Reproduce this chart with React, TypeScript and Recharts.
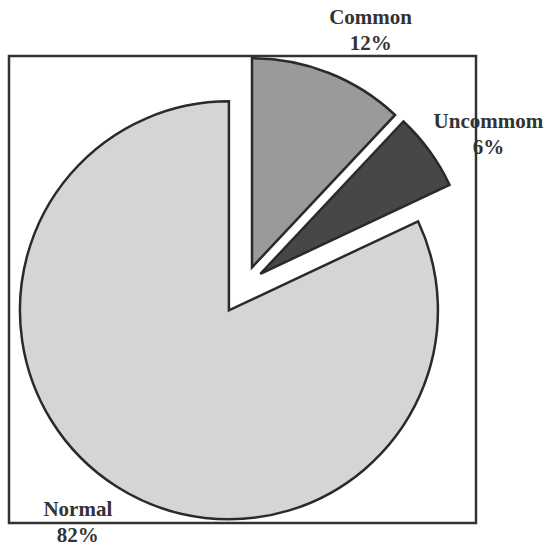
import { Cell, Pie, PieChart, Sector } from "recharts";

// slice names and their share of cases (%)
const names = ["Common", "Uncommom", "Normal"];
const shares = [12, 6, 82];

const data = names.map((name, i) => ({ name, value: shares[i] }));

const fills: Record<string, string> = {
  Common: "#9a9a9a",
  Uncommom: "#474747",
  Normal: "#d5d5d5",
};

// how far each slice is pulled out of the pie
const explode: Record<string, number> = { Common: 19, Uncommom: 19, Normal: 30 };

const RAD = Math.PI / 180;
const FONT = "'Liberation Serif', 'Times New Roman', serif";

const renderSlice = (props: any) => {
  const { cx, cy, midAngle, innerRadius, outerRadius, startAngle, endAngle, fill, payload } = props;
  const d = explode[payload?.name ?? props.name] ?? 0;
  return (
    <Sector
      cx={cx + d * Math.cos(-midAngle * RAD)}
      cy={cy + d * Math.sin(-midAngle * RAD)}
      innerRadius={innerRadius}
      outerRadius={outerRadius}
      startAngle={startAngle}
      endAngle={endAngle}
      fill={fill}
      stroke="#2a2a2a"
      strokeWidth={2.5}
      strokeLinejoin="miter"
    />
  );
};

const renderLabel = (props: any) => {
  const { cx, cy, midAngle, name, percent } = props;
  const d = explode[name] ?? 0;
  const ax = cx + d * Math.cos(-midAngle * RAD);
  const ay = cy + d * Math.sin(-midAngle * RAD);
  const a = (midAngle - 4) * RAD;
  const x = ax + 263 * Math.cos(-a) + 5;
  const y = ay + 263 * Math.sin(-a);
  return (
    <text
      x={x}
      y={y}
      textAnchor="middle"
      fontFamily={FONT}
      fontWeight="bold"
      fontSize={21}
      fill="#333"
    >
      <tspan x={x} dy={-6}>{name}</tspan>
      <tspan x={x} dy={26}>{`${Math.round(percent * 100)}%`}</tspan>
    </text>
  );
};

export default function App() {
  return (
    <div style={{ position: "absolute", left: 0, top: 0, background: "#fff" }}>
      <PieChart width={551} height={547} margin={{ top: 0, right: 0, bottom: 0, left: 0 }}>
        <rect x={9} y={56} width={467} height={467} fill="none" stroke="#333" strokeWidth={2.5} />
        <Pie
          data={data}
          dataKey="value"
          nameKey="name"
          cx={245}
          cy={285}
          outerRadius={209}
          startAngle={90}
          endAngle={-270}
          shape={renderSlice}
          label={renderLabel}
          labelLine={false}
          isAnimationActive={false}
        >
          {data.map((d) => (
            <Cell key={d.name} fill={fills[d.name]} />
          ))}
        </Pie>
      </PieChart>
    </div>
  );
}
